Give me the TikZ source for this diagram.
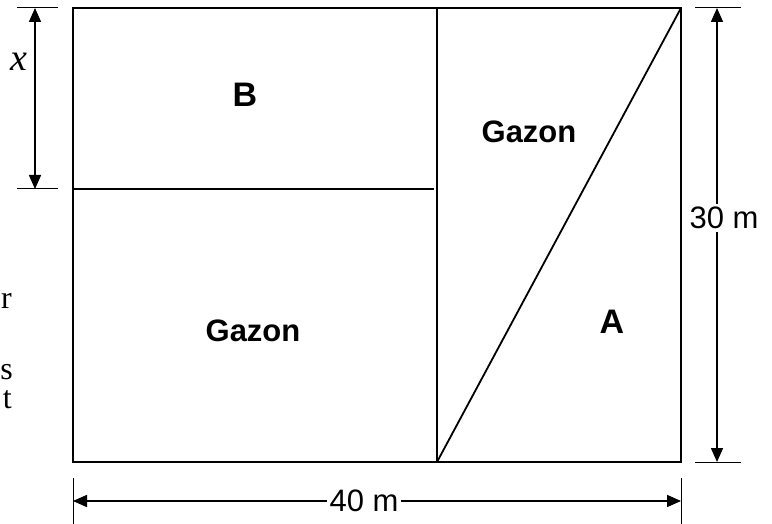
\documentclass[tikz,border=0pt]{standalone}
\usepackage{fontspec}
\setmainfont{Liberation Serif}
\newfontfamily\arialf{Liberation Sans}
\usetikzlibrary{arrows.meta}
\begin{document}
\begin{tikzpicture}[x=1pt,y=-1pt,
  edge/.style={line width=1.8pt},
  ext/.style={line width=1pt},
  dim/.style={line width=1.5pt,{Triangle[length=14pt,width=12pt]}-{Triangle[length=14pt,width=12pt]}},
  lbl/.style={font=\arialf\bfseries\fontsize{31}{31}\selectfont,inner sep=0pt},
  biglbl/.style={font=\arialf\bfseries\fontsize{34}{34}\selectfont,inner sep=0pt},
  dimlbl/.style={font=\arialf\fontsize{31}{31}\selectfont,fill=white,inner sep=3pt},
  serif/.style={font=\fontsize{32}{32}\selectfont,inner sep=0pt}]
\useasboundingbox (0,0) rectangle (772,524);
% main plan
\coordinate (tl) at (73,8);
\coordinate (tr) at (681,8);
\coordinate (br) at (681,462);
\coordinate (bl) at (73,462);
\coordinate (mt) at (437,8);
\coordinate (mb) at (437,462);
\coordinate (hl) at (73,189);
\coordinate (hr) at (434,189);
\draw[edge] (tl) -- (tr) -- (br) -- (bl) -- cycle;
\draw[edge] (mt) -- (mb);
\draw[edge] (hl) -- (hr);
\draw[edge] (mb) -- (tr);
% labels
\node[biglbl] (B) at (245,95) {B};
\node[lbl] (G1) at (529,132) {Gazon};
\node[lbl] (G2) at (253,331) {Gazon};
\node[biglbl] (A) at (612,322) {A};
% x dimension
\coordinate (xt1) at (17,8);  \coordinate (xt2) at (58,8);
\coordinate (xb1) at (17,189); \coordinate (xb2) at (58,189);
\coordinate (xa) at (35,8); \coordinate (xb) at (35,189);
\draw[ext] (xt1) -- (xt2);
\draw[ext] (xb1) -- (xb2);
\draw[dim] (xa) -- (xb);
\node[inner sep=0pt,font=\itshape\fontsize{38}{38}\selectfont] (xl) at (19,62) {x};
% 30 m dimension
\coordinate (rt1) at (695,8);  \coordinate (rt2) at (741,8);
\coordinate (rb1) at (695,462); \coordinate (rb2) at (741,462);
\coordinate (ra) at (717,8); \coordinate (rb) at (717,462);
\draw[ext] (rt1) -- (rt2);
\draw[ext] (rb1) -- (rb2);
\draw[dim] (ra) -- (rb);
\node[dimlbl] (l30) at (724,218) {30 m};
% 40 m dimension
\coordinate (bl1) at (73,478); \coordinate (bl2) at (73,524);
\coordinate (br1) at (681,478); \coordinate (br2) at (681,524);
\coordinate (ba) at (73,501); \coordinate (bb) at (681,501);
\draw[ext] (bl1) -- (bl2);
\draw[ext] (br1) -- (br2);
\draw[dim] (ba) -- (bb);
\node[dimlbl] (l40) at (364,501) {40 m};
% cut-off text on the left
\node[serif,anchor=base east] (r) at (12,308) {r};
\node[serif,anchor=base east] (s) at (13,379) {s};
\node[serif,anchor=base east] (t) at (12,408) {t};
\end{tikzpicture}
\end{document}
